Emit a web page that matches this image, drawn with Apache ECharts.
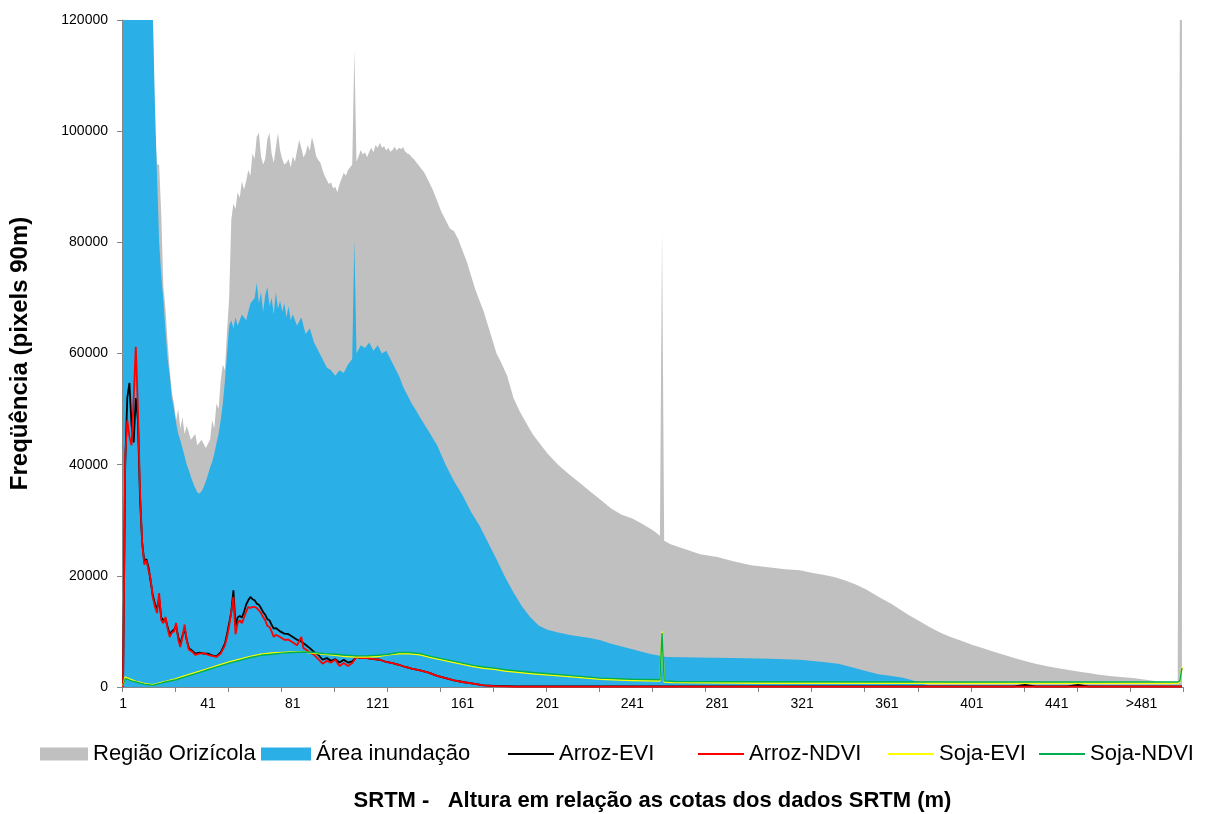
<!DOCTYPE html>
<html>
<head>
<meta charset="utf-8">
<script src="https://cdn.jsdelivr.net/npm/echarts@6/dist/echarts.min.js"></script>
<style>
html,body{margin:0;padding:0;background:#fff;}
#chart{width:1211px;height:814px;}
</style>
</head>
<body>
<div id="chart"></div>
<script>
// ---- data (category index, value) ----
const tickLabels = ['1','41','81','121','161','201','241','281','321','361','401','441','>481'];
const categoryCount = 500;

const regiao = [
[0,130000],[13,130000],[14,122000],[15,100000],[16,94000],[17,94000],[18,85000],[19,72000],[20,68000],[21,62000],[22,57000],[23,53000],[24,51000],[25,48000],[26,50000],[27,46500],[28,48500],[29,45500],[30,47000],[32,44500],[34,45500],[35,43500],[37,44500],[39,43000],[41,44500],[42,48000],[43,46500],[44,51000],[45,50000],[46,55000],[47,58000],[48,57000],[49,64000],[50,70000],[51,84000],[52,87000],[53,86000],[54,89000],[55,88000],[56,91000],[57,89500],[58,91000],[59,93000],[60,92000],[61,96000],[62,95000],[63,99000],[64,99700],[65,95500],[66,94000],[67,95000],[68,98500],[69,99700],[70,96000],[71,94300],[72,97000],[73,99700],[74,96500],[75,95000],[76,94000],[77,94300],[78,95000],[79,93500],[80,95500],[81,94500],[82,96500],[83,98400],[84,97000],[85,95300],[86,96000],[87,97500],[88,96500],[89,98900],[90,97500],[91,95500],[92,94800],[93,94300],[94,93000],[95,92000],[96,91200],[97,90500],[98,90800],[99,89700],[100,90000],[101,89000],[102,90500],[103,91500],[104,92500],[105,92000],[106,93000],[107,93500],[108,94000],[109,114600],[110,94500],[111,95500],[112,96600],[113,95800],[114,96200],[115,95300],[116,96300],[117,97000],[118,96200],[119,97500],[120,97000],[121,97900],[122,97000],[123,97300],[124,96500],[125,97000],[126,96300],[127,96600],[128,97200],[129,96500],[130,97000],[131,96800],[132,97100],[133,96300],[134,96000],[135,95800],[136,95300],[137,95000],[138,94500],[140,93500],[142,92500],[144,91000],[146,89400],[148,87500],[150,85500],[152,84000],[154,82500],[156,82000],[158,80500],[160,78500],[162,76500],[164,74000],[166,71500],[168,69500],[170,67500],[172,65000],[174,62500],[176,60000],[178,58500],[181,56000],[184,52000],[187,49500],[190,47500],[193,45500],[196,44000],[200,42000],[205,40000],[210,38300],[215,36800],[220,35200],[225,33700],[230,32100],[235,31000],[240,30300],[245,29300],[250,28100],[253,27200],[254,82000],[255,26300],[258,25700],[265,24800],[272,23900],[280,23400],[288,22600],[296,21900],[305,21500],[312,21200],[319,21000],[325,20500],[330,20200],[335,19800],[340,19200],[345,18500],[350,17600],[353,16900],[357,16000],[362,15000],[366,14000],[370,13000],[375,11900],[380,10800],[385,9800],[390,9000],[395,8300],[400,7600],[405,7000],[410,6400],[415,5800],[420,5200],[425,4700],[430,4200],[435,3800],[440,3400],[445,3100],[450,2800],[455,2500],[460,2200],[465,2000],[470,1800],[476,1600],[482,1300],[488,1000],[493,850],[497,700],[498,120000],[499,120000]
];

const inundacao = [
[0,130000],[13,130000],[14,121000],[15,105000],[16,92000],[17,80000],[18,74000],[19,69600],[20,64000],[21,59000],[22,56000],[23,52000],[24,50000],[25,47500],[26,45500],[27,44400],[28,43000],[29,41500],[30,40000],[31,39000],[32,37800],[33,36700],[34,35800],[35,35000],[36,34800],[37,35200],[38,36000],[39,37000],[40,38200],[41,39500],[42,40500],[43,42000],[44,43800],[45,45500],[46,48000],[47,51000],[48,55000],[49,60000],[50,65000],[51,66000],[52,64500],[53,66500],[54,65000],[56,67000],[58,66000],[60,69000],[62,70000],[63,72700],[64,69000],[65,71000],[66,67500],[67,70500],[68,72000],[69,68500],[70,70000],[71,67000],[72,71000],[73,68000],[74,69500],[75,67500],[76,69000],[77,66500],[78,68500],[79,66000],[80,67000],[82,65000],[84,66500],[86,63500],[88,64500],[90,62000],[92,60500],[94,59000],[96,57500],[98,57000],[100,56000],[102,57000],[104,56500],[106,58000],[108,59000],[109,80400],[110,60000],[112,61500],[114,61000],[116,62000],[118,60500],[120,61500],[122,60000],[124,60500],[126,59000],[128,57500],[130,56000],[132,54000],[134,52500],[136,51000],[138,49800],[140,48500],[144,46000],[148,43500],[152,40000],[156,37000],[160,34500],[164,31500],[168,29000],[172,26000],[176,23000],[180,19800],[184,17000],[188,14500],[192,12500],[196,11000],[200,10300],[205,9800],[210,9400],[215,9100],[220,8800],[225,8400],[230,7800],[235,7300],[240,6800],[248,6000],[256,5400],[270,5300],[288,5200],[305,5100],[319,4900],[330,4500],[337,4200],[343,3600],[350,2900],[356,2300],[362,2000],[367,1700],[372,1200],[376,600],[380,300],[499,300]
];

const arrozEVI = [
[0,500],[1,40000],[2,52000],[3,54700],[4,47000],[5,44000],[6,52000],[7,48000],[8,34000],[9,26000],[10,22500],[11,23000],[12,21500],[13,19000],[14,16500],[15,15000],[16,14000],[17,16000],[18,12500],[19,12000],[20,12300],[21,10800],[22,9500],[23,10000],[24,10300],[25,11000],[26,9000],[27,7800],[28,9200],[29,10500],[30,8500],[31,7000],[32,6700],[33,6400],[34,6000],[36,6200],[38,6000],[40,6000],[42,5700],[44,5500],[46,6200],[48,7800],[49,9500],[50,11500],[51,13500],[52,17400],[53,11000],[54,12500],[55,12800],[56,12500],[57,13500],[58,14800],[59,15600],[60,16200],[61,15800],[62,15600],[63,15000],[64,14800],[65,14200],[66,13500],[67,13000],[68,12200],[69,12000],[70,11200],[71,10500],[72,10600],[74,10000],[76,9600],[78,9500],[80,9000],[82,8500],[84,8200],[85,7900],[86,7600],[88,7000],[90,6300],[92,5800],[94,4900],[96,5200],[98,4700],[100,5000],[102,4400],[104,4900],[106,4400],[108,4600],[110,5400],[112,5200],[115,5200],[118,5000],[121,4900],[124,4500],[127,4300],[130,4000],[133,3600],[136,3300],[140,3000],[144,2600],[148,2000],[152,1600],[156,1200],[160,900],[165,600],[170,300],[175,200],[185,100],[420,100],[425,400],[430,100],[445,100],[450,400],[455,100],[499,100]
];

const arrozNDVI = [
[0,0],[1,41400],[2,48000],[3,45000],[4,43500],[5,52000],[6,61200],[7,50000],[8,35000],[9,26000],[10,22000],[11,22800],[12,21000],[13,19500],[14,16200],[15,14500],[16,13300],[17,16900],[18,12000],[19,11500],[20,12600],[21,10500],[22,9000],[23,9800],[24,10000],[25,11500],[26,8500],[27,7200],[28,9000],[29,11200],[30,8500],[31,6700],[32,6500],[33,6200],[34,5800],[36,6000],[38,6100],[40,5800],[42,5600],[44,5400],[46,6000],[48,7500],[49,9000],[50,11000],[51,13500],[52,16200],[53,9500],[54,11500],[55,12000],[56,11500],[57,12500],[58,13500],[59,14400],[60,14200],[61,14400],[62,14400],[63,14200],[64,13800],[65,13300],[66,12600],[67,12000],[68,11000],[69,10800],[70,10000],[71,9000],[72,9400],[74,9000],[76,8500],[78,8500],[80,8000],[82,7500],[84,9000],[85,7000],[86,6800],[88,6200],[90,5800],[92,5000],[94,4200],[96,4700],[98,4400],[100,4900],[102,3800],[104,4300],[106,3800],[108,4300],[110,5400],[112,5200],[115,5200],[118,5000],[121,4900],[124,4500],[127,4300],[130,4000],[133,3600],[136,3300],[140,3000],[144,2600],[148,2000],[152,1600],[156,1200],[160,900],[165,600],[170,300],[175,150],[185,50],[499,50]
];

const sojaEVI = [
[0,300],[1,1800],[2,1600],[4,1300],[6,1000],[8,800],[10,600],[12,500],[14,400],[16,600],[18,800],[20,1000],[25,1500],[30,2100],[35,2700],[40,3300],[45,3900],[50,4500],[55,5000],[60,5500],[65,5900],[70,6100],[75,6200],[80,6300],[85,6300],[90,6100],[95,5900],[100,5700],[105,5500],[110,5400],[115,5400],[120,5500],[125,5800],[130,6000],[135,6000],[140,5800],[145,5300],[150,4900],[155,4500],[160,4100],[165,3700],[170,3400],[175,3200],[180,2900],[193,2400],[210,1900],[225,1400],[240,1200],[253,1100],[254,10000],[255,900],[260,800],[300,700],[400,700],[497,700],[498,1000],[499,3600]
];

const sojaNDVI = [
[0,300],[1,1500],[2,1400],[4,1100],[6,900],[8,700],[10,500],[12,400],[14,300],[16,500],[18,700],[20,900],[25,1300],[30,1900],[35,2500],[40,3100],[45,3700],[50,4300],[55,4800],[60,5300],[65,5700],[70,5900],[75,6100],[80,6200],[85,6300],[90,6200],[95,6000],[100,5900],[105,5700],[110,5600],[115,5600],[120,5700],[125,5900],[130,6200],[135,6200],[140,6000],[145,5500],[150,5100],[155,4700],[160,4300],[165,3900],[170,3600],[175,3400],[180,3100],[193,2600],[210,2100],[225,1600],[240,1400],[253,1300],[254,9700],[255,1100],[260,1000],[300,950],[400,900],[497,900],[498,1100],[499,3400]
];

// ---- build categories from tick labels ----
const categories = [];
for (let i = 0; i < categoryCount; i++) {
  categories.push(i % 40 === 0 ? tickLabels[i / 40] : String(i + 1));
}

const chart = echarts.init(document.getElementById('chart'), null, {renderer: 'canvas'});
const font = 'Arial, "Liberation Sans", sans-serif';

function legendItem(name, left, w, h) {
  return {
    data: [{name: name, icon: 'rect'}],
    left: left, top: 743, padding: 0,
    itemWidth: w, itemHeight: h,
    textStyle: {fontFamily: font, fontSize: 22, color: '#000'},
    selectedMode: false
  };
}

chart.setOption({
  animation: false,
  backgroundColor: '#fff',
  grid: {left: 122, right: 28, top: 20, bottom: 127, containLabel: false, outerBoundsMode: 'none'},
  legend: [
    legendItem('Região Orizícola', 40, 48, 13),
    legendItem('Área inundação', 261, 50, 13),
    legendItem('Arroz-EVI', 508, 46, 2),
    legendItem('Arroz-NDVI', 698, 46, 2),
    legendItem('Soja-EVI', 888, 46, 2),
    legendItem('Soja-NDVI', 1039, 46, 2)
  ],
  xAxis: {
    type: 'category',
    data: categories,
    boundaryGap: true,
    name: 'SRTM -   Altura em relação as cotas dos dados SRTM (m)',
    nameLocation: 'middle',
    nameGap: 103,
    nameTextStyle: {fontFamily: font, fontSize: 22, fontWeight: 'bold', color: '#000'},
    axisLine: {lineStyle: {color: '#868686', width: 1}},
    axisTick: {show: true, interval: 24, length: 5, lineStyle: {color: '#868686'}},
    axisLabel: {interval: 39, fontFamily: font, fontSize: 14, color: '#000', margin: 10},
    splitLine: {show: false}
  },
  yAxis: {
    type: 'value',
    min: 0, max: 120000, interval: 20000,
    name: 'Freqüência (pixels 90m)',
    nameLocation: 'middle',
    nameGap: 90,
    nameRotate: 90,
    nameTextStyle: {fontFamily: font, fontSize: 24, fontWeight: 'bold', color: '#000'},
    axisLine: {show: true, lineStyle: {color: '#868686', width: 1}},
    axisTick: {show: true, length: 5, lineStyle: {color: '#868686'}},
    axisLabel: {fontFamily: font, fontSize: 14, color: '#000', margin: 14,
                formatter: function (v) { return String(v); }},
    splitLine: {show: false}
  },
  series: [
    {name: 'Região Orizícola', type: 'line', data: regiao, color: '#c0c0c0',
     showSymbol: false, symbol: 'none', lineStyle: {width: 0}, areaStyle: {color: '#c0c0c0', opacity: 1}},
    {name: 'Área inundação', type: 'line', data: inundacao, color: '#2aafe6',
     showSymbol: false, symbol: 'none', lineStyle: {width: 0}, areaStyle: {color: '#2aafe6', opacity: 1}},
    {name: 'Arroz-EVI', type: 'line', data: arrozEVI, color: '#000000',
     showSymbol: false, symbol: 'none', lineStyle: {width: 1.8, color: '#000000'}},
    {name: 'Arroz-NDVI', type: 'line', data: arrozNDVI, color: '#ff0000',
     showSymbol: false, symbol: 'none', lineStyle: {width: 1.8, color: '#ff0000'}},
    {name: 'Soja-EVI', type: 'line', data: sojaEVI, color: '#ffff00',
     showSymbol: false, symbol: 'none', lineStyle: {width: 1.6, color: '#ffff00'}},
    {name: 'Soja-NDVI', type: 'line', data: sojaNDVI, color: '#00b050',
     showSymbol: false, symbol: 'none', lineStyle: {width: 1.4, color: '#00b050'}}
  ]
});
</script>
</body>
</html>
